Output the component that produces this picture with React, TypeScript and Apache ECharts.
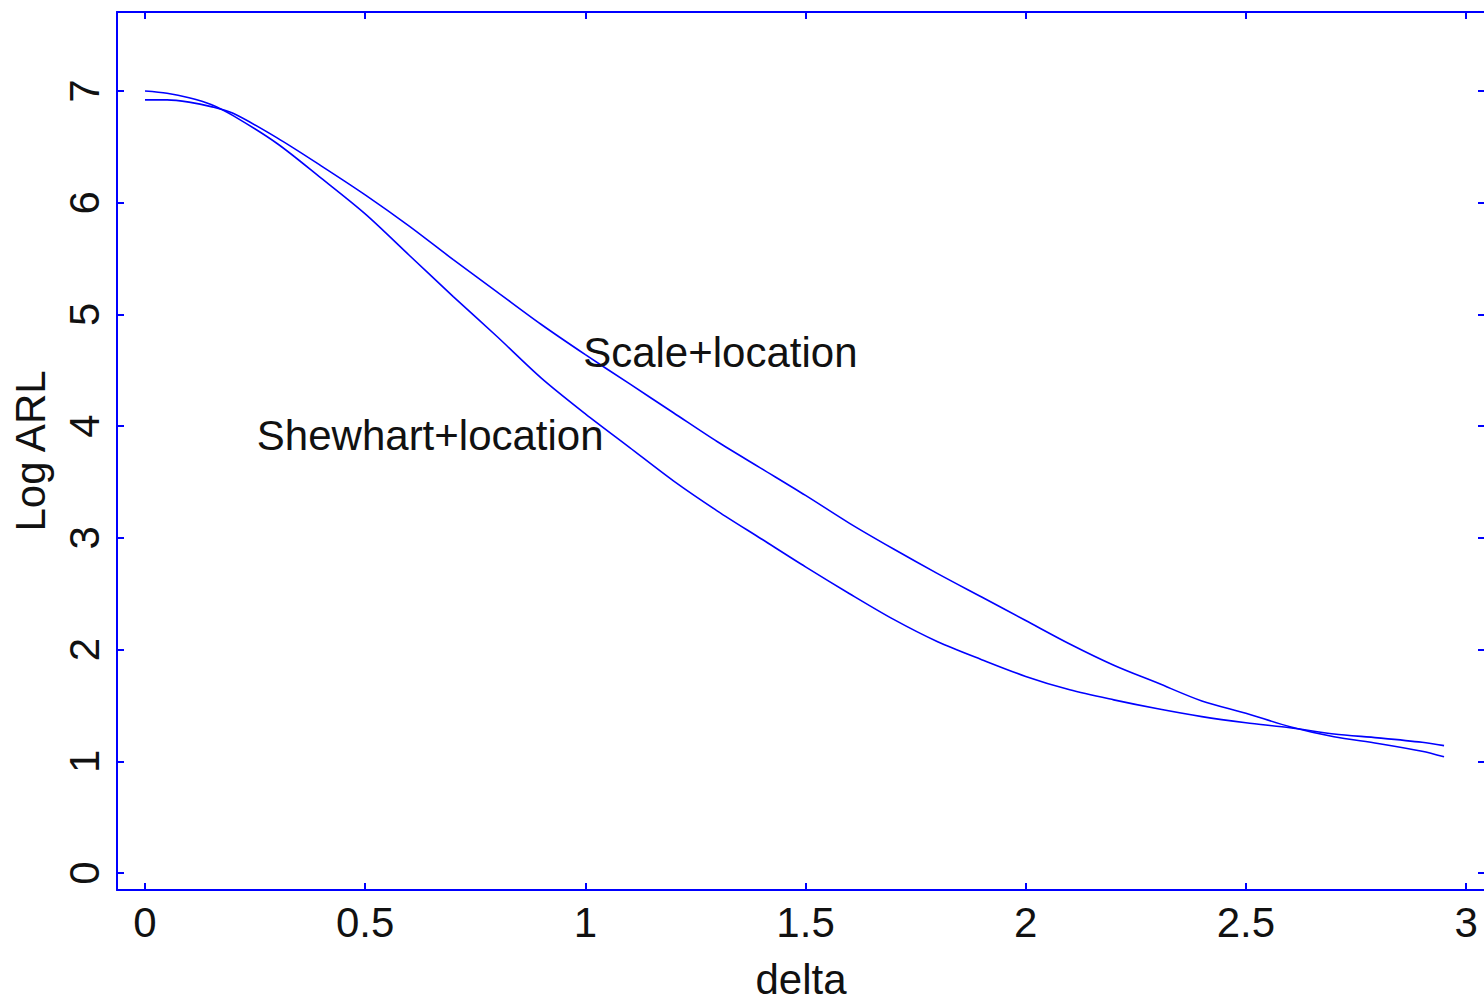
import React, { useEffect, useRef } from "react";
import * as echarts from "echarts";

const deltaValues = [0, 0.05, 0.1, 0.15, 0.2, 0.3, 0.4, 0.5, 0.6, 0.7, 0.8, 0.9, 1.0, 1.1, 1.2, 1.3, 1.4, 1.5, 1.6, 1.7, 1.8, 1.9, 2.0, 2.1, 2.2, 2.3, 2.4, 2.5, 2.6, 2.7, 2.8, 2.9, 2.95];
const shewhartValues = [7.0, 6.98, 6.94, 6.88, 6.78, 6.53, 6.22, 5.9, 5.53, 5.16, 4.8, 4.43, 4.11, 3.81, 3.51, 3.24, 2.99, 2.74, 2.5, 2.27, 2.07, 1.91, 1.76, 1.64, 1.55, 1.47, 1.4, 1.345, 1.3, 1.245, 1.21, 1.17, 1.14];
const scaleValues = [6.92, 6.92, 6.9, 6.86, 6.8, 6.58, 6.33, 6.07, 5.79, 5.49, 5.2, 4.91, 4.64, 4.38, 4.12, 3.86, 3.62, 3.38, 3.13, 2.9, 2.68, 2.47, 2.26, 2.05, 1.86, 1.7, 1.54, 1.43, 1.31, 1.22, 1.16, 1.09, 1.04];
const xTicks = [0, 0.5, 1, 1.5, 2, 2.5, 3];
const yTicks = [0, 1, 2, 3, 4, 5, 6, 7];
const annotations = [
  { name: "Scale+location", x: 0.995, y: 4.66 },
  { name: "Shewhart+location", x: 0.254, y: 3.92 },
];

const BLUE = "#0000ff";
const FONT = "Liberation Sans, Arial, sans-serif";

export default function App() {
  const ref = useRef<HTMLDivElement>(null);
  useEffect(() => {
    if (!ref.current) return;
    const chart = echarts.init(ref.current, undefined, { renderer: "svg" });
    const axisCommon = {
      type: "value" as const,
      axisLine: { show: true, onZero: false, lineStyle: { color: BLUE, width: 2 } },
      splitLine: { show: false },
    };
    const tick = (vals: number[]) => ({
      show: true,
      inside: true,
      length: 7,
      customValues: vals,
      lineStyle: { color: BLUE, width: 2 },
    });
    chart.setOption({
      animation: false,
      backgroundColor: "#ffffff",
      grid: { left: 117, top: 12, width: 1368, height: 878, containLabel: false, outerBoundsMode: "none" },
      xAxis: [
        {
          ...axisCommon,
          position: "bottom",
          min: -0.0636,
          max: 3.043,
          name: "delta",
          nameLocation: "middle",
          nameGap: 68,
          nameTextStyle: { color: "#111", fontSize: 42, fontFamily: FONT },
          axisTick: tick(xTicks),
          axisLabel: { show: true, customValues: xTicks, margin: 11, color: "#111", fontSize: 42, fontFamily: FONT },
        },
        {
          ...axisCommon,
          position: "top",
          min: -0.0636,
          max: 3.043,
          axisTick: tick(xTicks),
          axisLabel: { show: false },
        },
      ],
      yAxis: [
        {
          ...axisCommon,
          position: "left",
          min: -0.152,
          max: 7.707,
          name: "Log ARL",
          nameLocation: "middle",
          nameGap: 66,
          nameRotate: 90,
          nameTextStyle: { color: "#111", fontSize: 42, fontFamily: FONT },
          axisTick: tick(yTicks),
          axisLabel: { show: true, customValues: yTicks, rotate: 90, margin: 12, color: "#111", fontSize: 42, fontFamily: FONT },
        },
        {
          ...axisCommon,
          position: "right",
          min: -0.152,
          max: 7.707,
          axisTick: tick(yTicks),
          axisLabel: { show: false },
        },
      ],
      series: [
        {
          name: "Shewhart+location",
          type: "line",
          xAxisIndex: 0,
          yAxisIndex: 0,
          data: deltaValues.map((d, i) => [d, shewhartValues[i]]),
          showSymbol: false,
          smooth: 0.3,
          lineStyle: { color: BLUE, width: 1.6 },
          itemStyle: { color: BLUE },
          markPoint: {
            symbol: "circle",
            symbolSize: 0,
            data: annotations.map((a) => ({
              name: a.name,
              coord: [a.x, a.y],
              label: {
                show: true,
                position: "right",
                distance: 0,
                formatter: a.name,
                color: "#111",
                fontSize: 42,
                fontFamily: FONT,
              },
            })),
          },
        },
        {
          name: "Scale+location",
          type: "line",
          xAxisIndex: 0,
          yAxisIndex: 0,
          data: deltaValues.map((d, i) => [d, scaleValues[i]]),
          showSymbol: false,
          smooth: 0.3,
          lineStyle: { color: BLUE, width: 1.6 },
          itemStyle: { color: BLUE },
        },
      ],
    });
    return () => chart.dispose();
  }, []);
  return <div ref={ref} style={{ position: "fixed", left: 0, top: 0, width: 1484, height: 1003 }} />;
}
